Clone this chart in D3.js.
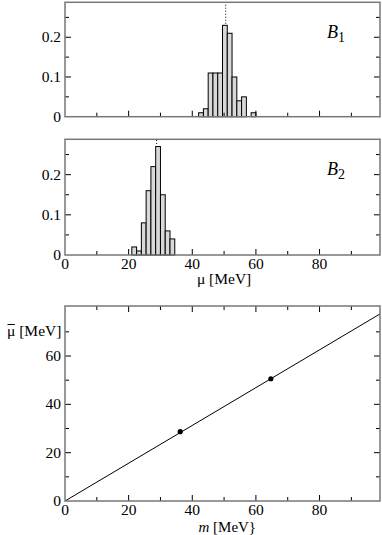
<!DOCTYPE html>
<html><head><meta charset="utf-8">
<script src="https://cdn.jsdelivr.net/npm/d3@7"></script>
<style>
body{margin:0;background:#fff;}
</style></head>
<body><svg id="c" width="382" height="535"></svg>
<script>
// ---- data ----
const binWidth = 1.5;
const b1BinStarts = [42,43.5,45,46.5,48,49.5,51,52.5,54,55.5,57,58.5];
const b1Values    = [0.01,0.02,0.11,0.11,0.11,0.23,0.21,0.10,0.04,0.05,0,0.01];
const b1Mean = 50.5;
const b2BinStarts = [21,22.5,24,25.5,27,28.5,30,31.5,33];
const b2Values    = [0.02,0.01,0.08,0.16,0.22,0.27,0.15,0.06,0.04];
const b2Mean = 28.8;
const massValues = [36.2, 64.7];
const meanMuValues = [28.7, 50.6];
const fitSlope = 0.782;
const xTicksHist = [0,20,40,60,80];
const yTicksHist = [0,0.1,0.2];
const yTicksFit = [0,20,40,60];

const svg = d3.select("#c")
  .attr("font-family","'Liberation Serif', 'Times New Roman', 'DejaVu Serif', serif")
  .attr("font-size",15.5);
const L = 65, R = 380;
const frameColor = "#777";

function ticks(g, scale, vals, orient, len, pos) {
  vals.forEach(v => {
    const p = scale(v);
    let ln = g.append("line");
    if (orient === "bottom") ln.attr("x1",p).attr("x2",p).attr("y1",pos).attr("y2",pos-len);
    if (orient === "top") ln.attr("x1",p).attr("x2",p).attr("y1",pos).attr("y2",pos+len);
    if (orient === "left") ln.attr("y1",p).attr("y2",p).attr("x1",pos).attr("x2",pos+len);
    if (orient === "right") ln.attr("y1",p).attr("y2",p).attr("x1",pos).attr("x2",pos-len);
    ln.attr("stroke","#000").attr("stroke-width",1);
  });
}

function histPanel(top, bottom, starts, vals, mean, label, showX) {
  const x = d3.scaleLinear().domain([0,99]).range([L,R]);
  const y = d3.scaleLinear().domain([0,0.288]).range([bottom,top]);
  const g = svg.append("g");
  g.append("line").attr("x1",x(mean)).attr("x2",x(mean)).attr("y1",y(0)).attr("y2",top)
    .attr("stroke","#000").attr("stroke-width",1).attr("stroke-dasharray","1,2");
  g.selectAll("rect.bar").data(starts.map((s,i)=>({s,v:vals[i]})).filter(d=>d.v>0)).enter()
    .append("rect")
    .attr("x",d=>x(d.s)).attr("width",d=>x(d.s+binWidth)-x(d.s))
    .attr("y",d=>y(d.v)).attr("height",d=>y(0)-y(d.v))
    .attr("fill","#d8d8d8").attr("stroke","#000").attr("stroke-width",1);
  const tg = g.append("g");
  ticks(tg, x, d3.range(20,99,20), "bottom", 6, bottom);
  ticks(tg, x, d3.range(10,99,20), "bottom", 4, bottom);
  ticks(tg, y, [0.1,0.2], "left", 6, L);
  ticks(tg, y, [0.05,0.15,0.25], "left", 4, L);
  ticks(tg, y, [0.1,0.2], "right", 6, R);
  ticks(tg, y, [0.05,0.15,0.25], "right", 4, R);
  g.append("rect").attr("x",L).attr("y",top).attr("width",R-L).attr("height",bottom-top)
    .attr("fill","none").attr("stroke",frameColor).attr("stroke-width",1.5);
  g.selectAll("text.yl").data(yTicksHist).enter().append("text")
    .attr("x",L-4).attr("y",d=>y(d)+5).attr("text-anchor","end")
    .text(d=>d===0?"0":d3.format(".1f")(d));
  const t = g.append("text").attr("x",327).attr("y",top+36).attr("font-size",18);
  t.append("tspan").attr("font-style","italic").text("B");
  t.append("tspan").attr("dy",4).attr("font-size",14).text(label);
  if (showX) {
    g.selectAll("text.xl").data(xTicksHist).enter().append("text")
      .attr("x",d=>x(d)).attr("y",bottom+14).attr("text-anchor","middle").text(d=>d);
    g.append("text").attr("x",x(50)).attr("y",bottom+29).attr("text-anchor","middle").text("μ [MeV]");
  }
}

histPanel(2.3, 116.7, b1BinStarts, b1Values, b1Mean, "1", false);
histPanel(139.3, 255, b2BinStarts, b2Values, b2Mean, "2", true);

// ---- bottom panel ----
{
  const top = 306, bottom = 501;
  const x = d3.scaleLinear().domain([0,99]).range([L,R]);
  const y = d3.scaleLinear().domain([0,80.7]).range([bottom,top]);
  const g = svg.append("g");
  const tg = g.append("g");
  ticks(tg, x, d3.range(20,99,20), "bottom", 6, bottom);
  ticks(tg, x, d3.range(10,99,20), "bottom", 4, bottom);
  ticks(tg, x, d3.range(20,99,20), "top", 6, top);
  ticks(tg, x, d3.range(10,99,20), "top", 4, top);
  ticks(tg, y, [20,40,60], "left", 6, L);
  ticks(tg, y, [10,30,50,70], "left", 4, L);
  ticks(tg, y, [20,40,60], "right", 6, R);
  ticks(tg, y, [10,30,50,70], "right", 4, R);
  const line = d3.line().x(d=>x(d)).y(d=>y(fitSlope*d));
  g.append("path").attr("d",line([0,99])).attr("fill","none").attr("stroke","#000").attr("stroke-width",1);
  g.selectAll("circle").data(massValues.map((m,i)=>({m,v:meanMuValues[i]}))).enter()
    .append("circle").attr("cx",d=>x(d.m)).attr("cy",d=>y(d.v)).attr("r",2.6).attr("fill","#000");
  g.append("rect").attr("x",L).attr("y",top).attr("width",R-L).attr("height",bottom-top)
    .attr("fill","none").attr("stroke",frameColor).attr("stroke-width",1.5);
  g.selectAll("text.yl").data(yTicksFit).enter().append("text")
    .attr("x",L-4).attr("y",d=>y(d)+5).attr("text-anchor","end").text(d=>d);
  g.selectAll("text.xl").data(xTicksHist).enter().append("text")
    .attr("x",d=>x(d)).attr("y",bottom+13.5).attr("text-anchor","middle").text(d=>d);
  const yl = g.append("text").attr("x",7).attr("y",336);
  const mu = yl.append("tspan").text("μ");
  yl.append("tspan").text(" [MeV]");
  const muW = mu.node().getComputedTextLength();
  g.append("line").attr("x1",7.5).attr("x2",7 + muW - 0.5).attr("y1",324.5).attr("y2",324.5)
    .attr("stroke","#000").attr("stroke-width",1);
  const xl = g.append("text").attr("x",x(51)).attr("y",bottom+31).attr("text-anchor","middle").attr("font-size",15);
  xl.append("tspan").attr("font-style","italic").text("m");
  xl.append("tspan").text(" [MeV}");
}
</script></body></html>
